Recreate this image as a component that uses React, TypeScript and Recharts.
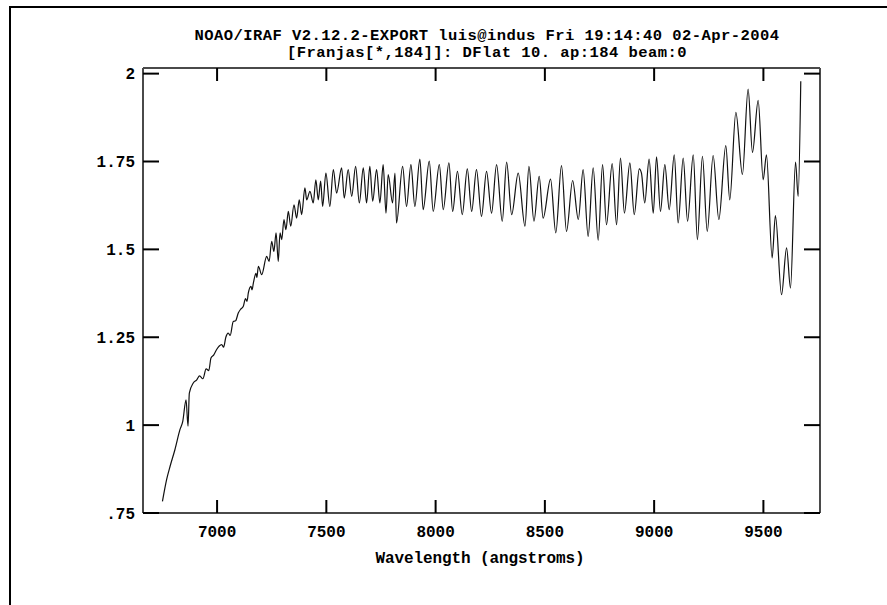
import React from "react";
import { LineChart, Line, XAxis, YAxis } from "recharts";

// spectrum: wavelength (angstroms) and normalised flux
const wavelength = [
  6750, 6769, 6785, 6807, 6830, 6843, 6858, 6867, 6873, 6891, 6907, 6920, 6935, 6950, 6962,
  6972, 6985, 6998, 7010, 7021, 7030, 7040, 7051, 7060, 7074, 7085, 7097, 7108, 7120, 7130,
  7137, 7143, 7155, 7160, 7166, 7178, 7182, 7189, 7204, 7227, 7238, 7250, 7260,
  7270, 7280, 7288, 7296, 7306, 7315, 7326, 7337, 7352, 7364, 7376, 7387, 7402, 7410, 7425,
  7440, 7452, 7463, 7474, 7483, 7498, 7516, 7532, 7547, 7570, 7582, 7600, 7616, 7634, 7651,
  7669, 7684, 7699, 7712, 7730, 7745, 7760, 7773, 7783, 7803, 7814, 7821, 7849, 7867, 7887,
  7905, 7928, 7943, 7971, 7989, 8017, 8035, 8061, 8078, 8100, 8122, 8145, 8165, 8187, 8210,
  8233, 8256, 8279, 8305, 8325, 8348, 8378, 8409, 8427, 8450, 8474, 8492, 8526, 8550, 8576,
  8599, 8627, 8653, 8675, 8698, 8721, 8744, 8764, 8782, 8808, 8828, 8846, 8864, 8889, 8909,
  8932, 8942, 8957, 8977, 8996, 9011, 9029, 9049, 9069, 9092, 9110, 9133, 9153, 9179, 9198,
  9221, 9243, 9270, 9296, 9328, 9346, 9374, 9404, 9430, 9450, 9476, 9499, 9514, 9540, 9555,
  9583, 9606, 9624, 9647, 9659, 9671,
];
const flux = [
  0.783, 0.845, 0.883, 0.93, 0.987, 1.011, 1.072, 0.997, 1.091, 1.12, 1.129, 1.14, 1.132, 1.16, 1.155,
  1.191, 1.2, 1.215, 1.225, 1.229, 1.222, 1.25, 1.262, 1.255, 1.295, 1.297, 1.319, 1.33, 1.338, 1.36,
  1.352, 1.376, 1.395, 1.385, 1.404, 1.432, 1.42, 1.452, 1.428, 1.48, 1.466, 1.523, 1.494,
  1.547, 1.466, 1.547, 1.528, 1.585, 1.556, 1.608, 1.566, 1.627, 1.589, 1.641, 1.599, 1.675, 1.641, 1.665,
  1.632, 1.698, 1.641, 1.694, 1.622, 1.717, 1.622, 1.727, 1.66, 1.732, 1.646, 1.727, 1.651, 1.736, 1.632,
  1.732, 1.632, 1.736, 1.637, 1.727, 1.632, 1.741, 1.603, 1.713, 1.632, 1.717, 1.575, 1.736, 1.622, 1.741,
  1.622, 1.757, 1.613, 1.751, 1.608, 1.741, 1.613, 1.746, 1.608, 1.722, 1.599, 1.729, 1.608, 1.727, 1.594,
  1.722, 1.603, 1.741, 1.58, 1.748, 1.599, 1.717, 1.566, 1.736, 1.58, 1.708, 1.589, 1.7, 1.547, 1.738,
  1.551, 1.696, 1.585, 1.727, 1.537, 1.732, 1.526, 1.741, 1.57, 1.744, 1.57, 1.76, 1.603, 1.746, 1.599,
  1.729, 1.717, 1.632, 1.757, 1.603, 1.763, 1.608, 1.741, 1.613, 1.769, 1.575, 1.76, 1.58, 1.769, 1.528,
  1.765, 1.551, 1.767, 1.585, 1.795, 1.641, 1.89, 1.713, 1.956, 1.776, 1.924, 1.698, 1.769, 1.476, 1.596,
  1.371, 1.504, 1.39, 1.748, 1.651, 1.978,
];

const xTicks = [7000, 7500, 8000, 8500, 9000, 9500];
const yTicks = [0.75, 1, 1.25, 1.5, 1.75, 2];
const yTickLabels = [".75", "1", "1.25", "1.5", "1.75", "2"];
const titleLines = [
  "NOAO/IRAF V2.12.2-EXPORT luis@indus Fri 19:14:40 02-Apr-2004",
  "[Franjas[*,184]]: DFlat 10. ap:184 beam:0",
];
const xLabel = "Wavelength (angstroms)";

const data = wavelength.map((w, i) => ({ w, f: flux[i] }));

const X_DOMAIN = [6661, 9759];
const Y_DOMAIN = [0.75, 2.016];
const FONT = "'Liberation Mono', 'DejaVu Sans Mono', monospace";
const AXIS = "#4a4a4a";
const INK = "#000";
const axisLine = { stroke: AXIS, strokeWidth: 2 };

function BottomTick({ x, y, payload }: any) {
  return (
    <g>
      <line x1={x} x2={x} y1={y} y2={y - 13} stroke={INK} strokeWidth={2} />
      <text x={x} y={y + 24} textAnchor="middle" fontFamily={FONT} fontWeight="bold" fontSize={16} fill={INK}>
        {payload.value}
      </text>
    </g>
  );
}

function TopTick({ x, y }: any) {
  return <line x1={x} x2={x} y1={y} y2={y + 13} stroke={INK} strokeWidth={2} />;
}

function LeftTick({ x, y, payload }: any) {
  const label = yTickLabels[yTicks.indexOf(payload.value)];
  return (
    <g>
      <line x1={x} x2={x + 16} y1={y} y2={y} stroke={INK} strokeWidth={2} />
      <text x={x - 8} y={y} dy="0.36em" textAnchor="end" fontFamily={FONT} fontWeight="bold" fontSize={16} fill={INK}>
        {label}
      </text>
    </g>
  );
}

function RightTick({ x, y }: any) {
  return <line x1={x} x2={x - 16} y1={y} y2={y} stroke={INK} strokeWidth={2} />;
}

export default function App() {
  return (
    <div style={{ position: "absolute", left: 0, top: 0, width: 887, height: 605, background: "#fff", overflow: "hidden" }}>
      <div style={{ position: "absolute", left: 9, top: 6, right: 0, bottom: 0, borderTop: "2px solid #000", borderLeft: "2px solid #000" }} />
      <div style={{ position: "absolute", left: 0, top: 0 }}>
        <LineChart width={887} height={605} data={data} margin={{ top: 58, right: 57, bottom: 42, left: 83 }}>
          <XAxis
            dataKey="w" type="number" domain={X_DOMAIN} ticks={xTicks} allowDataOverflow
            tick={<BottomTick />} tickLine={false} tickSize={0} tickMargin={0} height={50} axisLine={axisLine}
          />
          <XAxis
            xAxisId="top" orientation="top" dataKey="w" type="number" domain={X_DOMAIN} ticks={xTicks} allowDataOverflow
            tick={<TopTick />} tickLine={false} tickSize={0} tickMargin={0} height={10} axisLine={axisLine}
          />
          <YAxis
            type="number" domain={Y_DOMAIN} ticks={yTicks} allowDataOverflow
            tick={<LeftTick />} tickLine={false} tickSize={0} tickMargin={0} width={60} axisLine={axisLine}
          />
          <YAxis
            yAxisId="right" orientation="right" type="number" domain={Y_DOMAIN} ticks={yTicks} allowDataOverflow
            tick={<RightTick />} tickLine={false} tickSize={0} tickMargin={0} width={10} axisLine={axisLine}
          />
          <Line type="monotone" dataKey="f" stroke="#111" strokeWidth={1.2} dot={false} isAnimationActive={false} />
        </LineChart>
      </div>
      <svg width={887} height={605} style={{ position: "absolute", left: 0, top: 0, pointerEvents: "none" }}>
        {titleLines.map((t, i) => (
          <text key={i} x={487} y={40 + i * 16.5} textAnchor="middle" fontFamily={FONT} fontWeight="bold" fontSize={15.5} letterSpacing={0.45} fill={INK}>
            {t}
          </text>
        ))}
        <text x={480} y={563} textAnchor="middle" fontFamily={FONT} fontWeight="bold" fontSize={16} letterSpacing={-0.1} fill={INK}>
          {xLabel}
        </text>
      </svg>
    </div>
  );
}
